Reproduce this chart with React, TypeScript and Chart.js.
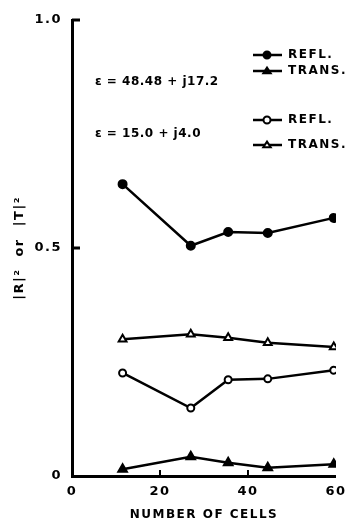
import React, { useEffect, useRef } from "react";
import { Chart, registerables } from "chart.js";

Chart.register(...registerables);

const cells = [11.5, 27, 35.5, 44.5, 59.5];
const reflHigh = [0.64, 0.505, 0.535, 0.533, 0.566];
const transHigh = [0.015, 0.042, 0.029, 0.018, 0.026];
const reflLow = [0.226, 0.149, 0.211, 0.213, 0.232];
const transLow = [0.3, 0.311, 0.303, 0.292, 0.283];

const seriesLabels = ["REFL.", "TRANS.", "REFL.", "TRANS."];
const epsLabels = ["\u03b5 = 48.48 + j17.2", "\u03b5 = 15.0 + j4.0"];
const xTickValues = [0, 20, 40, 60];
const yTickValues = [0, 0.5, 1.0];
const yTickText = ["0", "0.5", "1.0"];
const xTitle = "NUMBER OF CELLS";
const yTitle = "|R|\u00b2  or  |T|\u00b2";

const FONT = "'DejaVu Sans', 'Liberation Sans', sans-serif";

const toPts = (ys: number[]) => cells.map((x, i) => ({ x, y: ys[i] }));

function drawMarker(ctx: CanvasRenderingContext2D, style: string, filled: boolean, x: number, y: number, r: number) {
  ctx.save();
  ctx.beginPath();
  if (style === "circle") {
    ctx.arc(x, y, r, 0, Math.PI * 2);
  } else {
    const h = r * 1.6;
    ctx.moveTo(x, y - h * 0.6);
    ctx.lineTo(x + r * 1.05, y + h * 0.4);
    ctx.lineTo(x - r * 1.05, y + h * 0.4);
    ctx.closePath();
  }
  ctx.fillStyle = filled ? "#000" : "#fff";
  ctx.fill();
  ctx.lineWidth = 2;
  ctx.strokeStyle = "#000";
  ctx.stroke();
  ctx.restore();
}

const annotationPlugin = {
  id: "annot",
  beforeDraw(chart: any) {
    (chart.ctx as any).letterSpacing = "1.5px";
  },
  afterDraw(chart: any) {
    const ctx: CanvasRenderingContext2D = chart.ctx;
    const xs = chart.scales.x;
    const ys = chart.scales.y;
    ctx.save();
    ctx.strokeStyle = "#000";
    ctx.lineWidth = 2;
    // inward ticks
    [20, 40].forEach((v) => {
      const px = xs.getPixelForValue(v);
      ctx.beginPath();
      ctx.moveTo(px, ys.bottom);
      ctx.lineTo(px, ys.bottom - 6);
      ctx.stroke();
    });
    [0.5, 1.0].forEach((v) => {
      const py = ys.getPixelForValue(v);
      ctx.lineWidth = 3;
      ctx.beginPath();
      ctx.moveTo(xs.left, py);
      ctx.lineTo(xs.left + 8, py);
      ctx.stroke();
    });
    // epsilon labels
    ctx.fillStyle = "#000";
    (ctx as any).letterSpacing = "0.5px";
    ctx.font = `bold 12px ${FONT}`;
    ctx.textBaseline = "middle";
    ctx.textAlign = "left";
    ctx.fillText(epsLabels[0], 95, 82);
    ctx.fillText(epsLabels[1], 95, 134);
    // legend entries
    (ctx as any).letterSpacing = "1.5px";
    const legendY = [55, 71, 120, 145];
    chart.data.datasets.forEach((ds: any, i: number) => {
      const y = legendY[i];
      ctx.lineWidth = 2.5;
      ctx.beginPath();
      ctx.moveTo(253, y);
      ctx.lineTo(282, y);
      ctx.stroke();
      drawMarker(ctx, ds.pointStyle, ds.pointBackgroundColor === "#000", 267, y, 3.5);
      ctx.fillStyle = "#000";
      ctx.font = `bold 12px ${FONT}`;
      ctx.fillText(ds.label, 288, y);
    });
    ctx.restore();
  },
};

export default function App() {
  const ref = useRef<HTMLCanvasElement>(null);
  useEffect(() => {
    if (!ref.current) return;
    const mk = (label: string, ys: number[], style: string, filled: boolean, r: number) => ({
      label,
      data: toPts(ys),
      borderColor: "#000",
      borderWidth: 2.5,
      pointStyle: style,
      pointRadius: r,
      pointBackgroundColor: filled ? "#000" : "#fff",
      pointBorderColor: "#000",
      pointBorderWidth: 2,
      tension: 0,
      fill: false,
    });
    const chart = new Chart(ref.current, {
      type: "line",
      data: {
        datasets: [
          mk(seriesLabels[0], reflHigh, "circle", true, 4),
          mk(seriesLabels[1], transHigh, "triangle", true, 5),
          mk(seriesLabels[2], reflLow, "circle", false, 3.5),
          mk(seriesLabels[3], transLow, "triangle", false, 4.5),
        ],
      },
      options: {
        animation: false,
        responsive: false,
        layout: { padding: { top: 20, right: 8, left: 0, bottom: 0 } },
        plugins: { legend: { display: false }, tooltip: { enabled: false } },
        scales: {
          x: {
            type: "linear",
            min: 0,
            max: 60,
            afterBuildTicks: (s: any) => {
              s.ticks = xTickValues.map((v) => ({ value: v }));
            },
            afterFit: (s: any) => {
              s.height = 47;
            },
            grid: { drawOnChartArea: false, drawTicks: false },
            border: { display: true, color: "#000", width: 3 },
            ticks: { color: "#000", padding: 8, font: { family: FONT, size: 13, weight: "bold" } },
            title: {
              display: true,
              text: xTitle,
              color: "#000",
              font: { family: FONT, size: 12, weight: "bold" },
              padding: { top: 4, bottom: 1 },
            },
          },
          y: {
            type: "linear",
            min: 0,
            max: 1.0,
            afterBuildTicks: (s: any) => {
              s.ticks = yTickValues.map((v) => ({ value: v }));
            },
            afterFit: (s: any) => {
              s.width = 72;
            },
            grid: { drawOnChartArea: false, drawTicks: false },
            border: { display: true, color: "#000", width: 3 },
            ticks: {
              color: "#000",
              padding: 10,
              font: { family: FONT, size: 13, weight: "bold" },
              callback: (v: any) => {
                const i = yTickValues.indexOf(Number(v));
                return i >= 0 ? yTickText[i] : "";
              },
            },
            title: {
              display: true,
              text: yTitle,
              color: "#000",
              font: { family: FONT, size: 13, weight: "bold" },
              padding: { top: 12, bottom: 0 },
            },
          },
        },
      },
      plugins: [annotationPlugin],
    } as any);
    return () => chart.destroy();
  }, []);
  return (
    <div style={{ position: "fixed", left: 0, top: 0, width: 353, height: 523, background: "#fff" }}>
      <canvas ref={ref} width={353} height={523} style={{ display: "block", width: 353, height: 523 }} />
    </div>
  );
}
